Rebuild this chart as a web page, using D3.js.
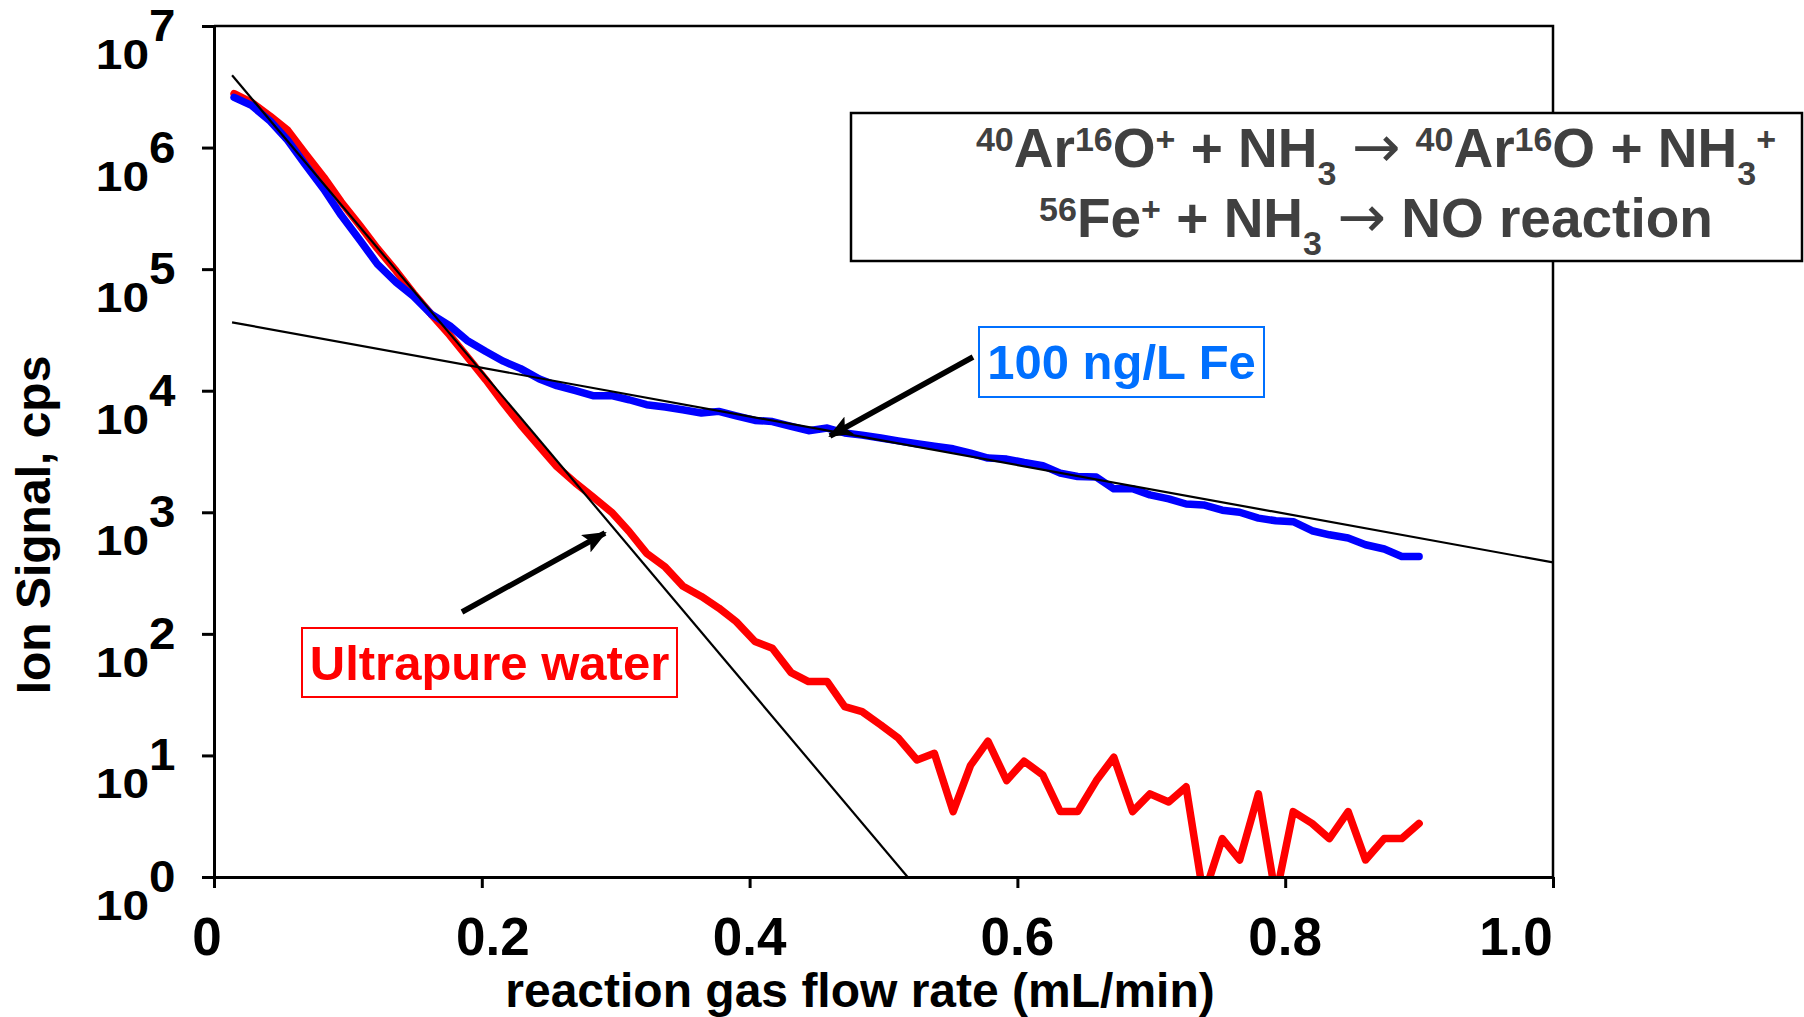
<!DOCTYPE html>
<html>
<head>
<meta charset="utf-8">
<script src="https://cdn.jsdelivr.net/npm/d3@7"></script>
<style>
  html, body { margin: 0; padding: 0; background: #fff; }
  svg { display: block; font-family: "Liberation Sans", Arial, sans-serif; font-weight: bold; }
</style>
</head>
<body>
<svg id="chart" width="1804" height="1017"></svg>
<script>
// Reaction gas (NH3) flow rate, mL/min
const flowRate = [
  0.015, 0.028, 0.042, 0.055, 0.068, 0.082, 0.095, 0.109, 0.122, 0.136,
  0.149, 0.162, 0.176, 0.189, 0.203, 0.216, 0.229, 0.243, 0.256, 0.270,
  0.283, 0.297, 0.310, 0.323, 0.337, 0.350, 0.364, 0.377, 0.390, 0.404,
  0.417, 0.431, 0.444, 0.458, 0.471, 0.484, 0.498, 0.511, 0.525, 0.538,
  0.552, 0.565, 0.578, 0.592, 0.605, 0.619, 0.632, 0.645, 0.659, 0.672,
  0.686, 0.699, 0.713, 0.726, 0.739, 0.753, 0.766, 0.780, 0.793, 0.806,
  0.820, 0.833, 0.847, 0.860, 0.874, 0.887, 0.900
];

// m/z 56 signal, ultrapure water (cps)
const ultrapureWater = [
  2.78e6, 2.36e6, 1.81e6, 1.39e6, 8.97e5, 5.70e5, 3.57e5, 2.28e5, 1.48e5, 9.66e4,
  6.32e4, 4.28e4, 2.87e4, 1.91e4, 1.23e4, 7.93e3, 5.25e3, 3.48e3, 2.38e3, 1.74e3,
  1.34e3, 1.00e3, 695, 461, 354, 248, 203, 163, 126, 86.5,
  76.2, 48.0, 40.5, 40.5, 25.2, 22.9, 17.8, 13.9, 9.18, 10.4,
  3.45, 8.28, 13.1, 6.21, 8.97, 6.90, 3.45, 3.45, 6.21, 9.66,
  3.45, 4.83, 4.14, 5.52, 0.69, 2.07, 1.38, 4.83, 0.69, 3.45,
  2.76, 2.07, 3.45, 1.38, 2.07, 2.07, 2.76
];

// m/z 56 signal, 100 ng/L Fe standard (cps)
const iron100 = [
  2.59e6, 2.22e6, 1.65e6, 1.15e6, 7.29e5, 4.54e5, 2.77e5, 1.73e5, 1.10e5, 7.78e4,
  5.97e4, 4.28e4, 3.43e4, 2.59e4, 2.10e4, 1.75e4, 1.52e4, 1.25e4, 1.10e4, 1.00e4,
  9.10e3, 9.10e3, 8.43e3, 7.67e3, 7.35e3, 6.98e3, 6.55e3, 6.76e3, 6.22e3, 5.70e3,
  5.58e3, 5.08e3, 4.69e3, 4.93e3, 4.49e3, 4.31e3, 4.08e3, 3.87e3, 3.66e3, 3.49e3,
  3.33e3, 3.07e3, 2.79e3, 2.74e3, 2.57e3, 2.42e3, 2.10e3, 1.97e3, 1.95e3, 1.56e3,
  1.56e3, 1.39e3, 1.29e3, 1.17e3, 1.15e3, 1.04e3, 1.00e3, 895, 851, 836,
  705, 653, 614, 541, 499, 433, 433
];

// Exponential trend lines (straight on the log axis)
const argonOxideTrend = [ { flow: 0.0135, cps: 3.93e6 }, { flow: 0.518, cps: 1 } ];
const ironTrend       = [ { flow: 0.0135, cps: 3.65e4 }, { flow: 1.0,   cps: 387 } ];

const xTickValues = [0, 0.2, 0.4, 0.6, 0.8, 1.0];
const xTickLabels = ["0", "0.2", "0.4", "0.6", "0.8", "1.0"];
const yExponents  = [0, 1, 2, 3, 4, 5, 6, 7];

const svg = d3.select("#chart");
const frame = { left: 214, right: 1553, top: 26, bottom: 877 };

const x = d3.scaleLinear().domain([0, 1]).range([frame.left, frame.right]);
const y = d3.scaleLog().domain([1, 1e7]).range([frame.bottom, frame.top]);

const defs = svg.append("defs");
defs.append("clipPath").attr("id", "plot-clip")
  .append("rect")
  .attr("x", frame.left).attr("y", frame.top)
  .attr("width", frame.right - frame.left).attr("height", frame.bottom - frame.top);

defs.append("marker")
  .attr("id", "arrowhead")
  .attr("markerUnits", "userSpaceOnUse")
  .attr("viewBox", "0 0 24 20")
  .attr("refX", 22).attr("refY", 10)
  .attr("markerWidth", 24).attr("markerHeight", 20)
  .attr("orient", "auto")
  .append("path").attr("d", "M0,0 L24,10 L0,20 L5,10 Z").attr("fill", "#000");

// plot frame (top & right)
svg.append("path")
  .attr("d", `M${frame.left},${frame.top} H${frame.right} V${frame.bottom}`)
  .attr("fill", "none").attr("stroke", "#000").attr("stroke-width", 2.5);

// data series
const series = (vals) => flowRate.map((f, i) => [f, vals[i]]);
const line = d3.line().x(d => x(d[0])).y(d => y(d[1]));
const plotG = svg.append("g").attr("clip-path", "url(#plot-clip)");

plotG.append("path").datum(series(ultrapureWater))
  .attr("d", line).attr("fill", "none").attr("stroke", "#FF0000")
  .attr("stroke-width", 7.5).attr("stroke-linejoin", "round").attr("stroke-linecap", "round");

plotG.append("path").datum(series(iron100))
  .attr("d", line).attr("fill", "none").attr("stroke", "#0000FF")
  .attr("stroke-width", 7.5).attr("stroke-linejoin", "round").attr("stroke-linecap", "round");

const trendLine = d3.line().x(d => x(d.flow)).y(d => y(d.cps));
[argonOxideTrend, ironTrend].forEach(t => {
  plotG.append("path").datum(t).attr("d", trendLine)
    .attr("fill", "none").attr("stroke", "#000").attr("stroke-width", 2.2);
});

// axes
const xAxis = d3.axisBottom(x).tickValues(xTickValues).tickSize(11).tickFormat("");
const yAxis = d3.axisLeft(y).tickValues(yExponents.map(e => Math.pow(10, e))).tickSize(12).tickFormat("");

const gx = svg.append("g").attr("transform", `translate(0,${frame.bottom})`).call(xAxis);
const gy = svg.append("g").attr("transform", `translate(${frame.left},0)`).call(yAxis);
[gx, gy].forEach(g => {
  g.select(".domain").attr("stroke", "#000").attr("stroke-width", 3);
  g.selectAll(".tick line").attr("stroke", "#000").attr("stroke-width", 3);
});
gx.select(".domain").attr("d", `M${frame.left - 12},0.5H${frame.right}`);
gy.select(".domain").attr("d", `M0.5,${frame.top}V${frame.bottom + 11}`);

// x tick labels (nudges keep the end labels inside the frame)
const xLabelNudge = { "0": -7, "1.0": -37, "0.2": 11 };
svg.append("g").selectAll("text").data(xTickValues).join("text")
  .attr("x", (d, i) => x(d) + (xLabelNudge[xTickLabels[i]] || 0))
  .attr("y", 955)
  .attr("text-anchor", "middle")
  .attr("font-size", 53)
  .attr("fill", "#000")
  .text((d, i) => xTickLabels[i]);

// y tick labels: 10 with raised exponent
const yLab = svg.append("g").selectAll("g").data(yExponents).join("g");
yLab.append("text")
  .attr("transform", e => `translate(149,${y(Math.pow(10, e)) + 43}) scale(1.14,1)`)
  .attr("text-anchor", "end").attr("font-size", 42).attr("fill", "#000")
  .text("10");
yLab.append("text")
  .attr("transform", e => `translate(149,${y(Math.pow(10, e)) + 15}) scale(1.08,1)`)
  .attr("text-anchor", "start").attr("font-size", 44).attr("fill", "#000")
  .text(e => e);

// axis titles
svg.append("text")
  .attr("x", 860).attr("y", 1007)
  .attr("text-anchor", "middle").attr("font-size", 48).attr("fill", "#000")
  .text("reaction gas flow rate (mL/min)");

svg.append("text")
  .attr("transform", "translate(50,525) rotate(-90)")
  .attr("text-anchor", "middle").attr("font-size", 48).attr("fill", "#000")
  .text("Ion Signal, cps");

// reaction scheme box
svg.append("rect")
  .attr("x", 851).attr("y", 113).attr("width", 951).attr("height", 148)
  .attr("fill", "#fff").attr("stroke", "#000").attr("stroke-width", 2.5);

const schemeColor = "#404040";
function scheme(yBase, parts) {
  const t = svg.append("text")
    .attr("x", 1376).attr("y", yBase)
    .attr("text-anchor", "middle").attr("font-size", 55).attr("fill", schemeColor);
  let shift = 0;
  parts.forEach(p => {
    const target = p.sup ? -16 : p.sub ? 18 : 0;
    const span = t.append("tspan")
      .attr("dy", target - shift)
      .attr("font-size", p.sup || p.sub ? 34 : 55)
      .text(p.t);
    if (p.arrow) {
      span.attr("font-family", "'DejaVu Sans', sans-serif")
        .attr("font-weight", "normal").attr("font-size", 58);
    }
    shift = target;
  });
}
scheme(167, [
  { t: "40", sup: true }, { t: "Ar" }, { t: "16", sup: true }, { t: "O" }, { t: "+", sup: true },
  { t: " + NH" }, { t: "3", sub: true }, { t: " " }, { t: "\u2192", arrow: true }, { t: " " },
  { t: "40", sup: true }, { t: "Ar" }, { t: "16", sup: true }, { t: "O + NH" },
  { t: "3", sub: true }, { t: "+", sup: true }
]);
scheme(237, [
  { t: "56", sup: true }, { t: "Fe" }, { t: "+", sup: true },
  { t: " + NH" }, { t: "3", sub: true }, { t: " " }, { t: "\u2192", arrow: true }, { t: " NO reaction" }
]);

// series call-outs
function callout(box, label, color, arrow) {
  svg.append("rect")
    .attr("x", box[0]).attr("y", box[1]).attr("width", box[2]).attr("height", box[3])
    .attr("fill", "#fff").attr("stroke", color).attr("stroke-width", 2);
  svg.append("text")
    .attr("x", box[0] + box[2] / 2).attr("y", box[1] + box[3] / 2 + 17)
    .attr("text-anchor", "middle").attr("font-size", 49).attr("fill", color)
    .text(label);
  svg.append("line")
    .attr("x1", arrow[0]).attr("y1", arrow[1]).attr("x2", arrow[2]).attr("y2", arrow[3])
    .attr("stroke", "#000").attr("stroke-width", 5.5)
    .attr("marker-end", "url(#arrowhead)");
}
callout([979, 327, 285, 70], "100 ng/L Fe", "#0070FF", [973, 357, 830, 436]);
callout([302, 628, 375, 69], "Ultrapure water", "#FF0000", [462, 612, 605, 533]);
</script>
</body>
</html>
